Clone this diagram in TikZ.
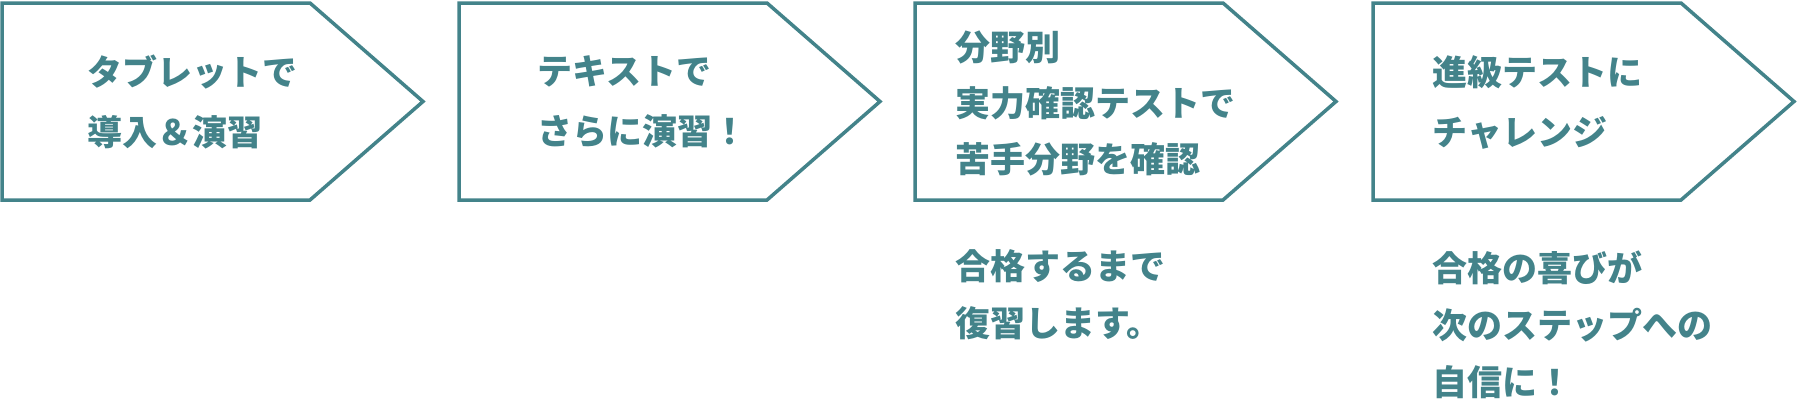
\documentclass[tikz,border=0pt]{standalone}
\usepackage{fontspec}
\newfontfamily\jpfont{Noto Sans CJK JP}
\definecolor{stepteal}{RGB}{67,131,138}
\tikzset{
	stepline/.style = {draw = stepteal, line width = 1.75pt, line join = miter},
	steptext/.style = {anchor = west, inner sep = 0pt, align = left, text = stepteal,
		font = \jpfont\bfseries\fontsize{17.5}{30}\selectfont},
	notetext/.style = {steptext, font = \jpfont\bfseries\fontsize{17.5}{28.5}\selectfont}
}
\begin{document}
\begin{tikzpicture}[x = 0.5pt, y = -0.5pt]
	%	canvas
	\useasboundingbox (0, 0) rectangle (1798, 407);
	
	%	arrow boxes
	\def\corner{308}
	\def\tip{421}
	\foreach \l in {2, 459, 915, 1373}
		\draw[stepline] (\l, 3) -- (\l + \corner, 3) -- (\l + \tip, 101.5) -- (\l + \corner, 200) -- (\l, 200) -- cycle;
	
	%	step texts
	\node[steptext] (tablet) at (87, 102) {タブレットで\\導入＆演習};
	\node[steptext] (textbook) at (537, 102) {テキストで\\さらに演習！};
	\node[notetext, font = \jpfont\bfseries\fontsize{17.5}{28}\selectfont] (fieldtest) at (955, 103) {分野別\\実力確認テストで\\苦手分野を確認};
	\node[steptext] (gradetest) at (1432, 102) {進級テストに\\チャレンジ};
	
	%	notes below
	\node[notetext] (retry) at (955, 295) {合格するまで\\復習します。};
	\node[notetext] (joy) at (1432, 325) {合格の喜びが\\次のステップへの\\自信に！};
\end{tikzpicture}
\end{document}
